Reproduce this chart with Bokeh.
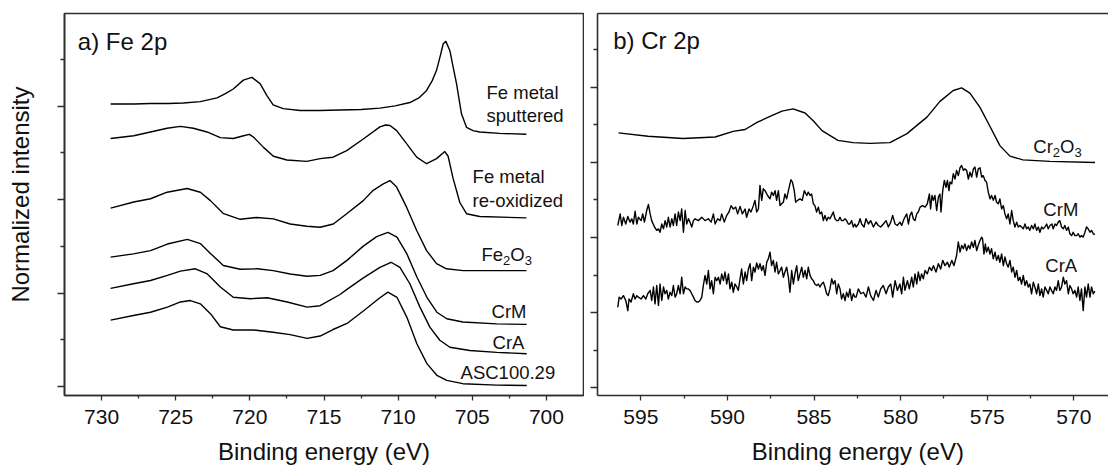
from bokeh.plotting import figure
from bokeh.models import Range1d, FixedTicker, Label, LinearAxis
from bokeh.layouts import row, column
from bokeh.embed import file_html
from bokeh.resources import INLINE

FONT = "Liberation Sans"
FRAME_COLOR = "#2e2e2e"
FRAME_WIDTH = 1.6
LINE_COLOR = "#000000"
LINE_WIDTH = 1.4
TEXT_COLOR = "#111111"

# ---------------- Fe 2p: binding energy (eV) / stacked normalized intensity ----------------
fe_sputtered_be = [729.39, 727.80, 726.70, 725.50, 724.48, 723.34, 722.21, 721.65, 721.12, 720.44,
                   719.86, 719.30, 718.85, 718.43, 717.75, 716.61, 715.30, 713.92, 712.50, 711.23,
                   710.20, 709.21, 708.60, 708.08, 707.70, 707.41, 707.15, 706.96, 706.78, 706.51,
                   706.29, 706.06, 705.73, 705.39, 704.95, 704.50, 703.15, 701.35]
fe_sputtered_int = [6.05, 6.05, 6.06, 6.06, 6.07, 6.10, 6.18, 6.27, 6.37, 6.56,
                    6.62, 6.48, 6.23, 6.03, 5.95, 5.91, 5.91, 5.92, 5.93, 5.96,
                    6.01, 6.08, 6.18, 6.34, 6.55, 6.77, 7.09, 7.34, 7.39, 7.19,
                    6.84, 6.48, 5.84, 5.55, 5.48, 5.45, 5.42, 5.40]

fe_reox_be = [729.39, 727.83, 726.70, 725.58, 724.68, 723.81, 722.89, 721.99, 721.12, 720.42,
              720.04, 719.75, 719.08, 718.41, 717.50, 716.16, 715.26, 714.39, 713.47, 712.35,
              711.23, 710.85, 710.55, 710.10, 709.43, 708.75, 708.08, 707.41, 706.85, 706.63,
              706.29, 705.84, 705.39, 704.50, 701.35]
fe_reox_int = [5.31, 5.37, 5.45, 5.53, 5.57, 5.53, 5.45, 5.33, 5.31, 5.37,
               5.40, 5.34, 5.12, 4.93, 4.85, 4.82, 4.88, 4.91, 5.05, 5.30,
               5.56, 5.60, 5.59, 5.48, 5.20, 4.91, 4.77, 4.88, 5.03, 4.93,
               4.45, 3.94, 3.70, 3.64, 3.61]

fe2o3_be = [729.39, 727.83, 726.70, 725.58, 724.23, 723.34, 722.66, 721.77, 720.65, 719.52,
            718.41, 717.28, 716.16, 715.26, 714.37, 713.47, 712.35, 711.68, 711.00, 710.55,
            710.10, 709.43, 708.75, 708.08, 707.41, 706.74, 705.62, 703.37, 701.35]
fe2o3_int = [3.82, 3.95, 4.02, 4.16, 4.24, 4.16, 3.98, 3.70, 3.58, 3.62,
             3.59, 3.48, 3.43, 3.41, 3.48, 3.70, 3.98, 4.20, 4.34, 4.41,
             4.27, 3.84, 3.34, 2.91, 2.63, 2.52, 2.48, 2.48, 2.48]

fe_crm_be = [729.39, 727.85, 726.70, 725.56, 724.21, 723.34, 722.66, 721.79, 720.65, 719.50,
             718.43, 717.28, 716.14, 715.26, 714.39, 713.45, 712.37, 711.45, 710.69, 710.08,
             709.41, 708.73, 708.06, 707.39, 706.72, 705.64, 703.35, 701.33]
fe_crm_int = [2.77, 2.84, 2.91, 3.05, 3.15, 3.06, 2.85, 2.59, 2.51, 2.52,
              2.48, 2.41, 2.36, 2.38, 2.48, 2.70, 3.00, 3.21, 3.30, 3.20,
              2.84, 2.34, 1.91, 1.59, 1.45, 1.38, 1.34, 1.33]

fe_cra_be = [729.39, 727.85, 726.70, 725.56, 724.68, 723.67, 722.87, 721.99, 721.12, 719.97,
             718.83, 717.48, 716.14, 715.26, 713.92, 713.45, 712.37, 711.23, 710.48, 709.88,
             709.21, 708.53, 707.86, 707.19, 706.51, 705.17, 703.35, 701.33]
fe_cra_int = [2.10, 2.20, 2.27, 2.38, 2.47, 2.52, 2.41, 2.13, 1.91, 1.88,
              1.90, 1.81, 1.70, 1.73, 1.97, 2.08, 2.32, 2.55, 2.66, 2.55,
              2.20, 1.70, 1.27, 0.99, 0.84, 0.77, 0.73, 0.70]

fe_asc_be = [729.39, 727.85, 726.70, 725.56, 724.68, 724.01, 723.34, 722.66, 721.99, 721.12,
             719.77, 718.43, 717.28, 716.14, 715.26, 714.39, 713.45, 712.37, 711.23, 710.69,
             710.08, 709.41, 708.73, 708.06, 707.39, 706.72, 705.64, 703.35, 701.33]
fe_asc_int = [1.42, 1.52, 1.59, 1.70, 1.81, 1.84, 1.77, 1.56, 1.28, 1.21,
              1.21, 1.16, 1.11, 1.03, 1.08, 1.22, 1.35, 1.61, 1.90, 2.02,
              1.91, 1.48, 0.91, 0.49, 0.24, 0.13, 0.06, 0.03, 0.02]

# ---------------- Cr 2p: binding energy (eV) / stacked normalized intensity ----------------
cr2o3_be = [596.29, 594.58, 592.56, 590.71, 589.67, 588.98, 588.29, 587.44, 586.85, 586.21,
            585.52, 585.06, 584.54, 583.62, 582.75, 581.77, 580.62, 579.63, 579.06, 578.48,
            577.73, 576.96, 576.48, 576.00, 575.42, 574.84, 574.27, 573.69, 572.94, 571.38,
            568.78]
cr2o3_int = [6.79, 6.70, 6.64, 6.68, 6.83, 6.88, 7.07, 7.25, 7.37, 7.43,
             7.32, 7.12, 6.85, 6.59, 6.53, 6.51, 6.53, 6.77, 6.99, 7.21,
             7.63, 7.92, 7.99, 7.85, 7.47, 6.96, 6.45, 6.17, 6.07, 6.03,
             6.00]

cr_crm_be = [596.33, 596.19, 596.10, 596.00, 595.87, 595.75, 595.62, 595.52, 595.43, 595.33,
             595.23, 595.14, 594.98, 594.89, 594.79, 594.66, 594.56, 594.46, 594.37, 594.21,
             594.08, 593.98, 593.89, 593.79, 593.69, 593.60, 593.50, 593.41, 593.31, 593.21,
             593.12, 593.02, 592.93, 592.83, 592.73, 592.64, 592.54, 592.44, 592.35, 592.25,
             592.16, 592.06, 591.96, 591.87, 591.68, 591.48, 591.29, 591.10, 590.94, 590.81,
             590.71, 590.56, 590.42, 590.33, 590.18, 590.04, 589.91, 589.79, 589.66, 589.52,
             589.41, 589.27, 589.14, 588.98, 588.89, 588.75, 588.64, 588.50, 588.41, 588.31,
             588.21, 588.12, 588.02, 587.93, 587.83, 587.68, 587.54, 587.45, 587.35, 587.25,
             587.16, 587.06, 586.96, 586.87, 586.77, 586.68, 586.58, 586.48, 586.39, 586.33,
             586.25, 586.14, 586.06, 585.95, 585.81, 585.68, 585.56, 585.42, 585.33, 585.23,
             585.14, 585.04, 584.95, 584.85, 584.75, 584.66, 584.56, 584.46, 584.37, 584.27,
             584.18, 584.08, 583.98, 583.89, 583.79, 583.69, 583.60, 583.50, 583.41, 583.31,
             583.21, 583.12, 583.02, 582.93, 582.83, 582.73, 582.64,
             582.57, 582.44, 582.34, 582.25, 582.11, 582.00, 581.86, 581.73, 581.57, 581.42,
             581.29, 581.15, 581.00, 580.84, 580.71, 580.57, 580.46, 580.32, 580.19, 580.04,
             579.94, 579.80, 579.65, 579.55, 579.46, 579.36, 579.27, 579.17, 579.07, 578.98,
             578.88, 578.73, 578.59, 578.46, 578.34, 578.27, 578.19, 578.11, 578.02, 577.92,
             577.82, 577.73, 577.67, 577.57, 577.48, 577.38, 577.30, 577.21, 577.15, 577.05,
             576.96, 576.86, 576.77, 576.67, 576.57, 576.48, 576.38, 576.29, 576.19, 576.09,
             576.00, 575.90, 575.80, 575.71, 575.61, 575.52, 575.42, 575.32, 575.23, 575.13,
             575.04, 574.94, 574.84, 574.75, 574.65, 574.55, 574.46, 574.36, 574.27, 574.17,
             574.07, 573.98, 573.88, 573.79, 573.69, 573.59, 573.50, 573.40, 573.30, 573.21,
             573.11, 573.02, 572.92, 572.82, 572.73, 572.63, 572.54, 572.44, 572.34, 572.25,
             572.15, 572.05, 571.96, 571.86, 571.77, 571.67, 571.57, 571.48, 571.38, 571.27,
             571.19, 571.09, 571.00, 570.90, 570.81, 570.71, 570.61, 570.52, 570.42, 570.32,
             570.23, 570.13, 570.04, 569.94, 569.84, 569.75, 569.65, 569.56, 569.46, 569.36,
             569.27, 569.17, 569.07, 568.98, 568.88, 568.79]
cr_crm_int = [4.32, 4.63, 4.32, 4.54, 4.36, 4.56, 4.41, 4.50, 4.36, 4.70,
              4.36, 4.54, 4.45, 4.63, 4.41, 4.72, 4.88, 4.63, 4.45, 4.28,
              4.19, 4.23, 4.14, 4.36, 4.23, 4.45, 4.28, 4.54, 4.28, 4.50,
              4.32, 4.63, 4.32, 4.68, 4.45, 4.76, 4.14, 4.72, 4.36, 4.50,
              4.41, 4.28, 4.45, 4.50, 4.45, 4.54, 4.45, 4.50, 4.41, 4.63,
              4.36, 4.50, 4.45, 4.63, 4.41, 4.59, 4.68, 4.85, 4.76, 4.81,
              4.63, 4.83, 4.63, 4.76, 4.54, 4.76, 4.68, 4.85, 4.99, 4.68,
              4.76, 5.39, 4.99, 5.30, 5.25, 5.12, 5.03, 5.21, 5.12, 5.25,
              4.99, 5.25, 4.85, 4.90, 4.94, 5.16, 5.03, 5.25, 5.43, 5.54,
              5.48, 5.25, 4.94, 4.99, 5.03, 4.99, 5.25, 5.12, 5.21, 5.12,
              5.16, 4.90, 4.85, 4.68, 4.81, 4.63, 4.68, 4.45, 4.59, 4.45,
              4.54, 4.50, 4.59, 4.68, 4.50, 4.45, 4.45, 4.54, 4.45, 4.45,
              4.50, 4.45, 4.36, 4.36, 4.45, 4.28, 4.36,
              4.28, 4.36, 4.50, 4.36, 4.28, 4.50, 4.36, 4.45, 4.28, 4.41,
              4.32, 4.28, 4.36, 4.45, 4.28, 4.41, 4.59, 4.36, 4.32, 4.41,
              4.32, 4.50, 4.63, 4.36, 4.59, 4.68, 4.50, 4.45, 4.63, 4.68,
              4.81, 4.85, 4.81, 4.90, 5.16, 4.76, 5.12, 4.99, 5.12, 4.72,
              5.08, 5.16, 4.68, 5.25, 5.52, 5.34, 5.52, 5.25, 5.48, 5.43,
              5.70, 5.56, 5.79, 5.65, 5.86, 5.92, 5.79, 5.83, 5.79, 5.56,
              5.74, 5.61, 5.83, 5.88, 5.61, 5.83, 5.86, 5.61, 5.65, 5.52,
              5.48, 5.21, 5.03, 5.12, 4.99, 5.12, 4.94, 4.90, 5.03, 4.76,
              4.85, 4.63, 4.50, 4.63, 4.36, 4.72, 4.45, 4.28, 4.41, 4.28,
              4.32, 4.28, 4.23, 4.36, 4.23, 4.28, 4.19, 4.32, 4.23, 4.36,
              4.19, 4.28, 4.14, 4.28, 4.23, 4.28, 4.36, 4.23, 4.32, 4.36,
              4.23, 4.36, 4.32, 4.41, 4.45, 4.28, 4.23, 4.32, 4.19, 4.28,
              4.10, 4.05, 4.14, 4.05, 4.05, 4.10, 4.01, 4.05, 4.01, 4.14,
              4.28, 4.23, 4.14, 4.19, 4.10, 4.08]

cr_cra_be = [596.33, 596.25, 596.14, 596.00, 595.87, 595.75, 595.68, 595.56, 595.43, 595.33,
             595.23, 595.14, 594.98, 594.85, 594.71, 594.60, 594.46, 594.37, 594.27, 594.18,
             594.08, 593.98, 593.89, 593.79, 593.69, 593.60, 593.50, 593.41, 593.31, 593.21,
             593.12, 593.02, 592.93, 592.83, 592.73, 592.64, 592.54, 592.44, 592.35, 592.25,
             592.16, 592.06, 591.96, 591.87, 591.77, 591.68, 591.58, 591.48, 591.39, 591.29,
             591.19, 591.10, 591.00, 590.91, 590.81, 590.71, 590.62, 590.52, 590.42, 590.33,
             590.23, 590.14, 590.04, 589.94, 589.85, 589.75, 589.66, 589.56, 589.46, 589.37,
             589.27, 589.18, 589.08, 588.98, 588.89, 588.79, 588.69, 588.60, 588.50, 588.41,
             588.31, 588.21, 588.12, 588.02, 587.93, 587.83, 587.73, 587.64, 587.54, 587.45,
             587.35, 587.25, 587.16, 587.06, 586.96, 586.87, 586.77, 586.68, 586.58, 586.48,
             586.39, 586.29, 586.19, 586.10, 586.00, 585.91, 585.81, 585.71, 585.62, 585.52,
             585.42, 585.33, 585.23, 585.14, 585.04, 584.95, 584.85, 584.75, 584.66, 584.56,
             584.46, 584.37, 584.27, 584.18, 584.08, 583.98, 583.89, 583.79, 583.69, 583.60,
             583.50, 583.41, 583.31, 583.21, 583.12, 583.02, 582.93, 582.83, 582.73, 582.64,
             582.57, 582.44, 582.30, 582.15, 582.00, 581.86, 581.73, 581.57, 581.42, 581.29,
             581.15, 581.00, 580.84, 580.71, 580.57, 580.46, 580.32, 580.19, 580.04, 579.94,
             579.84, 579.75, 579.61, 579.50, 579.36, 579.27, 579.17, 579.07, 578.98, 578.88,
             578.79, 578.69, 578.59, 578.46, 578.34, 578.21, 578.11, 577.96, 577.82, 577.69,
             577.57, 577.44, 577.30, 577.19, 577.05, 576.92, 576.77, 576.67, 576.57, 576.48,
             576.38, 576.29, 576.19, 576.09, 576.00, 575.90, 575.80, 575.71, 575.61, 575.52,
             575.42, 575.32, 575.27, 575.19, 575.11, 575.04, 574.94, 574.84, 574.75, 574.65,
             574.55, 574.46, 574.36, 574.27, 574.17, 574.07, 573.98, 573.88, 573.79, 573.69,
             573.59, 573.50, 573.40, 573.30, 573.21, 573.11, 573.02, 572.92, 572.82, 572.73,
             572.63, 572.54, 572.44, 572.34, 572.25, 572.15, 572.05, 571.96, 571.86, 571.77,
             571.67, 571.57, 571.48, 571.38, 571.29, 571.19, 571.09, 571.00, 570.90, 570.81,
             570.71, 570.61, 570.52, 570.42, 570.32, 570.23, 570.13, 570.04, 569.94, 569.84,
             569.75, 569.65, 569.56, 569.46, 569.36, 569.27, 569.17, 569.07, 568.98, 568.88,
             568.79]
cr_cra_int = [2.14, 2.41, 2.36, 2.45, 2.32, 2.05, 2.36, 2.28, 2.50, 2.36,
              2.45, 2.41, 2.36, 2.45, 2.36, 2.50, 2.59, 2.32, 2.68, 2.23,
              2.72, 2.19, 2.76, 2.32, 2.68, 2.50, 2.59, 2.36, 2.54, 2.45,
              2.72, 2.41, 2.50, 2.72, 2.50, 2.94, 2.50, 2.68, 2.63, 2.63,
              2.59, 2.50, 2.41, 2.32, 2.28, 2.28, 2.32, 2.41, 2.72, 2.99,
              2.76, 3.12, 2.63, 2.85, 2.50, 2.94, 2.85, 2.94, 2.76, 3.03,
              2.85, 3.08, 2.76, 3.03, 2.63, 2.81, 2.54, 2.76, 2.68, 2.59,
              2.90, 3.16, 2.76, 3.08, 2.85, 3.16, 3.30, 2.85, 3.21, 3.08,
              3.32, 3.16, 3.30, 3.12, 3.25, 2.99, 3.34, 3.43, 3.61, 3.25,
              3.39, 3.08, 3.34, 3.03, 3.12, 3.21, 2.94, 3.08, 3.21, 2.94,
              2.54, 3.12, 2.76, 3.03, 3.25, 2.85, 3.03, 3.21, 2.94, 3.12,
              2.90, 3.21, 2.99, 2.90, 2.85, 2.76, 2.72, 2.76, 2.68, 2.76,
              2.81, 2.68, 2.50, 2.45, 2.63, 2.90, 2.76, 2.85, 2.50, 2.76,
              2.63, 2.36, 2.50, 2.32, 2.54, 2.41, 2.63, 2.32, 2.50, 2.41,
              2.41, 2.63, 2.50, 2.54, 2.41, 2.68, 2.45, 2.32, 2.59, 2.41,
              2.63, 2.72, 2.50, 2.68, 2.76, 2.41, 2.85, 2.59, 2.76, 2.50,
              2.94, 2.59, 2.85, 2.63, 2.94, 2.68, 3.03, 2.76, 3.08, 2.85,
              3.03, 2.90, 3.12, 3.03, 3.21, 3.12, 3.25, 3.08, 3.30, 3.16,
              3.39, 3.25, 3.34, 3.21, 3.39, 3.25, 3.52, 3.88, 3.61, 3.79,
              3.70, 3.83, 3.65, 3.79, 3.70, 3.88, 3.74, 3.92, 3.65, 3.79,
              3.92, 4.01, 3.96, 3.56, 3.83, 3.61, 3.74, 3.56, 3.70, 3.43,
              3.61, 3.39, 3.52, 3.34, 3.56, 3.25, 3.48, 3.30, 3.21, 3.39,
              3.08, 3.21, 2.94, 3.12, 2.85, 2.94, 2.76, 2.99, 2.72, 2.85,
              2.68, 2.76, 2.50, 2.81, 2.68, 2.50, 2.76, 2.45, 2.63, 2.41,
              2.68, 2.59, 2.50, 2.68, 2.59, 2.50, 2.68, 2.59, 2.85, 2.59,
              2.68, 2.94, 2.76, 2.85, 2.50, 2.72, 2.63, 2.50, 2.59, 2.41,
              2.68, 2.32, 2.63, 2.05, 2.68, 2.41, 2.76, 2.41, 2.68, 2.50,
              2.57]

fe_major = [730, 725, 720, 715, 710, 705, 700]
fe_minor = [727.5, 722.5, 717.5, 712.5, 707.5, 702.5]
cr_major = [595, 590, 585, 580, 575, 570]
cr_minor = [592.5, 587.5, 582.5, 577.5, 572.5]

FE_X = (732.5, 697.5)
CR_X = (597.5, 568.0)
FE_Y = (-0.193, 7.987)
CR_Y = (-0.213, 9.973)

PAGE_H = 465
TITLE_H = 30     # strip laid over the bottom margin, holding the axis titles
YLAB_W = 40      # strip left of panel a) holding the vertical title

# Approximate advance widths (em units) for building sub-scripted formulas
ADV = {"F": 0.611, "e": 0.556, "C": 0.722, "r": 0.333, "O": 0.778, "2": 0.556, "3": 0.556}
LABEL_SIZE = 18.5
SUB_SIZE = 13.0


def style_axis(axis, tick_out, minor_out, ticks):
    axis.axis_label = None
    axis.axis_label_standoff = 0
    axis.axis_line_color = FRAME_COLOR
    axis.axis_line_width = FRAME_WIDTH
    axis.major_tick_line_color = FRAME_COLOR
    axis.minor_tick_line_color = FRAME_COLOR
    axis.major_tick_line_width = 1.3
    axis.minor_tick_line_width = 1.3
    axis.major_tick_in = 0
    axis.minor_tick_in = 0
    axis.major_tick_out = tick_out
    axis.minor_tick_out = minor_out
    axis.major_label_text_font = FONT
    axis.major_label_text_font_size = "21px"
    axis.major_label_text_color = TEXT_COLOR
    axis.major_label_standoff = 9
    if ticks is not None:
        # intensity axis: tick marks only, no numbers
        axis.major_label_overrides = {t: "" for t in ticks}
        axis.major_label_standoff = 0


def add_text(p, s, x, y, size=LABEL_SIZE, dx=0, dy=0, align="left", angle=0):
    p.add_layout(Label(x=x, y=y, text=s, x_offset=dx, y_offset=dy, angle=angle,
                       text_font=FONT, text_font_size=f"{size}px", text_color=TEXT_COLOR,
                       text_align=align, text_baseline="middle"))


def add_formula(p, parts, x, y):
    dx = 0.0
    for s, sub in parts:
        size = SUB_SIZE if sub else LABEL_SIZE
        add_text(p, s, x, y, size=size, dx=dx, dy=-6 if sub else 0)
        dx += sum(ADV[c] for c in s) * size


def base_figure(width, height, x_range, y_range, left, right, top, bottom):
    p = figure(width=width, height=height, x_range=Range1d(*x_range), y_range=Range1d(*y_range),
               output_backend="svg", toolbar_location=None,
               min_border_left=left, min_border_right=right,
               min_border_top=top, min_border_bottom=bottom)
    p.xgrid.visible = False
    p.ygrid.visible = False
    p.background_fill_color = "white"
    p.border_fill_color = "white"
    return p


def blank_strip(width, height, x_range, y_range, left, right, top, bottom):
    p = base_figure(width, height, x_range, y_range, left, right, top, bottom)
    p.xaxis.visible = False
    p.yaxis.visible = False
    p.outline_line_color = None
    return p


# ---------------- panel a) Fe 2p ----------------
fe_y_major = [0, 2, 4, 6]
pa = base_figure(544, PAGE_H, FE_X, FE_Y, 24, 1, 13, 70)
pa.outline_line_color = FRAME_COLOR
pa.outline_line_width = FRAME_WIDTH
pa.outline_line_alpha = 1.0
pa.xaxis.ticker = FixedTicker(ticks=fe_major, minor_ticks=fe_minor)
pa.yaxis.ticker = FixedTicker(ticks=fe_y_major, minor_ticks=[1, 3, 5, 7])
style_axis(pa.xaxis[0], 5, 3, None)
style_axis(pa.yaxis[0], 7, 4, fe_y_major)

for be, inten in [(fe_sputtered_be, fe_sputtered_int), (fe_reox_be, fe_reox_int),
                  (fe2o3_be, fe2o3_int), (fe_crm_be, fe_crm_int),
                  (fe_cra_be, fe_cra_int), (fe_asc_be, fe_asc_int)]:
    pa.line(be, inten, line_color=LINE_COLOR, line_width=LINE_WIDTH, line_join="round")

add_text(pa, "a) Fe 2p", 731.60, 7.38, size=24)
add_text(pa, "Fe metal", 704.04, 6.30)
add_text(pa, "sputtered", 704.04, 5.80)
add_text(pa, "Fe metal", 704.98, 4.50)
add_text(pa, "re-oxidized", 704.98, 3.98)
add_formula(pa, [("Fe", False), ("2", True), ("O", False), ("3", True)], 704.38, 2.83)
add_text(pa, "CrM", 703.70, 1.61)
add_text(pa, "CrA", 703.63, 0.94)
add_text(pa, "ASC100.29", 705.79, 0.30)

# ---------------- panel b) Cr 2p ----------------
cr_y_major = [0, 2, 4, 6, 8]
pb = base_figure(524, PAGE_H, CR_X, CR_Y, 13, 0, 13, 70)
pb.outline_line_color = None
pb.xaxis.ticker = FixedTicker(ticks=cr_major, minor_ticks=cr_minor)
pb.yaxis.ticker = FixedTicker(ticks=cr_y_major, minor_ticks=[1, 3, 5, 7, 9])
style_axis(pb.xaxis[0], 5, 3, None)
style_axis(pb.yaxis[0], 7, 4, cr_y_major)
top_edge = LinearAxis(ticker=FixedTicker(ticks=[]))
style_axis(top_edge, 0, 0, [])
top_edge.major_tick_line_color = None
top_edge.minor_tick_line_color = None
pb.add_layout(top_edge, "above")

for be, inten in [(cr2o3_be, cr2o3_int), (cr_crm_be, cr_crm_int), (cr_cra_be, cr_cra_int)]:
    pb.line(be, inten, line_color=LINE_COLOR, line_width=LINE_WIDTH, line_join="round")

add_text(pb, "b) Cr 2p", 596.59, 9.25, size=24)
add_formula(pb, [("Cr", False), ("2", True), ("O", False), ("3", True)], 572.34, 6.43)
add_text(pb, "CrM", 571.76, 4.75)
add_text(pb, "CrA", 571.65, 3.25)

# ---------------- axis titles ----------------
ylab = blank_strip(YLAB_W, PAGE_H, (0, YLAB_W), FE_Y, 0, 0, 13, 70)
add_text(ylab, "Normalized intensity", YLAB_W / 2, 4.11, size=24, align="center", angle=1.5707963)

xlab_a = blank_strip(584, TITLE_H, FE_X, (0, TITLE_H), 64, 1, 0, 0)
add_text(xlab_a, "Binding energy (eV)", 715.0, 13.9, size=24, align="center")
xlab_b = blank_strip(524, TITLE_H, CR_X, (0, TITLE_H), 13, 0, 0, 0)
add_text(xlab_b, "Binding energy (eV)", 582.47, 13.9, size=24, align="center")

# the title strip is pulled up over the (empty) bottom margin of the panels
titles = row(xlab_a, xlab_b, margin=(-TITLE_H, 0, 0, 0))
layout = column(row(ylab, pa, pb), titles)
open("out.html", "w").write(file_html(layout, INLINE))
